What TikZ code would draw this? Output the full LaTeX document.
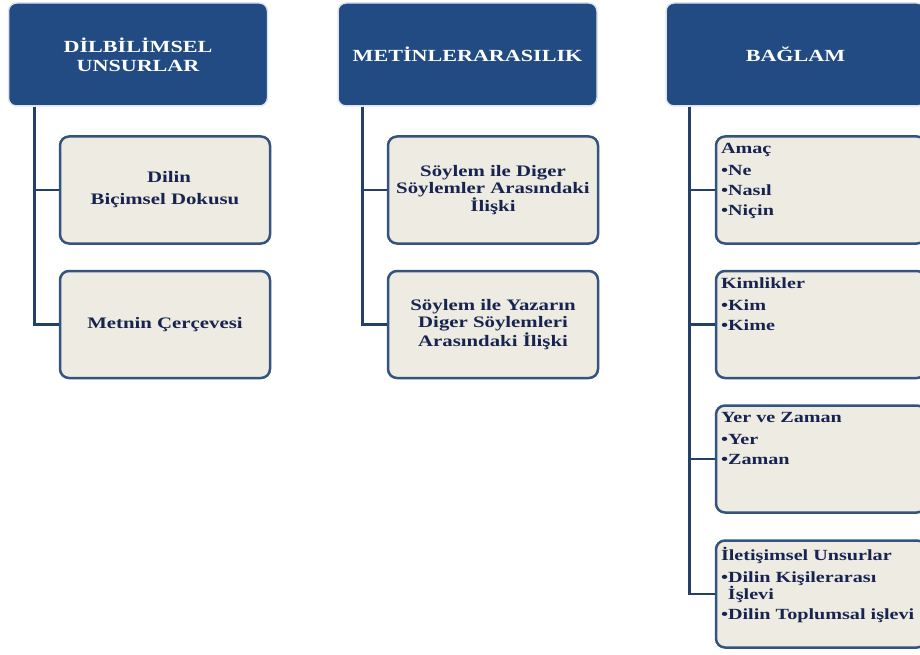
\documentclass[tikz,border=0pt]{standalone}
\usepackage{fontspec}
\setmainfont{Liberation Serif}[FakeStretch=1.3]
\usetikzlibrary{positioning}

\definecolor{hdrblue}{RGB}{33,75,130}
\definecolor{hdredge}{RGB}{222,228,236}
\definecolor{subfill}{RGB}{238,236,226}
\definecolor{subedge}{RGB}{52,84,126}
\definecolor{subtext}{RGB}{24,36,80}
\definecolor{linkcol}{RGB}{36,64,104}

\tikzset{
  hdr/.style={rectangle, rounded corners=8pt, fill=hdrblue, draw=hdredge, line width=1.5pt,
    minimum width=259pt, minimum height=103pt, text=white, align=center,
    font=\bfseries\fontsize{17}{19}\selectfont},
  sub/.style={rectangle, rounded corners=9pt, fill=subfill, draw=subedge, line width=2.5pt,
    minimum width=210pt, minimum height=107pt, text=subtext, align=center,
    font=\bfseries\fontsize{16}{17}\selectfont},
  lst/.style={sub, inner sep=5pt, font=\bfseries\fontsize{15.5}{17}\selectfont},
  link/.style={draw=linkcol, line width=2.7pt}
}

\begin{document}
\begin{tikzpicture}[x=1pt, y=-1pt]
\clip (0,0) rectangle (920,655);
% headers
\node[hdr] (h1) at (138,54.5) {DİLBİLİMSEL\\UNSURLAR};
\node[hdr] (h2) at (467.5,54.5) {METİNLERARASILIK};
\node[hdr] (h3) at (795.5,54.5) {BAĞLAM};
% first column
\node[sub] (c1a) at (165,190) {\hspace*{8pt}Dilin\\[5pt]Biçimsel Dokusu};
\node[sub] (c1b) at (165,324.5) {Metnin Çerçevesi};
% second column
\node[sub] (c2a) at (493,190) {Söylem ile Diger\\Söylemler Arasındaki\\İlişki};
\node[sub] (c2b) at (493,324.5) {Söylem ile Yazarın\\Diger Söylemleri\\Arasındaki İlişki};
% third column
\foreach \n/\y/\t in {
  r1/190/{Amaç\\[5pt]•Ne\\[3pt]•Nasıl\\[3pt]•Niçin},
  r2/324.5/{Kimlikler\\[5pt]•Kim\\[3pt]•Kime},
  r3/459/{Yer ve Zaman\\[5pt]•Yer\\[3pt]•Zaman},
  r4/594/{İletişimsel Unsurlar\\[5pt]•Dilin Kişilerarası\\\hspace*{0.45em}İşlevi\\[3pt]•Dilin Toplumsal işlevi}} {
  \node[lst] (\n) at (821,\y) {\parbox[c][97pt][t]{200pt}{\raggedright\vspace*{2pt}\t}};
}
% connectors
\draw[link] ([xshift=27pt]h1.south west) |- (c1a.west);
\draw[link] ([xshift=27pt]h1.south west) |- (c1b.west);
\draw[link] ([xshift=25pt]h2.south west) |- (c2a.west);
\draw[link] ([xshift=25pt]h2.south west) |- (c2b.west);
\foreach \n in {r1,r2,r3,r4} {
  \draw[link] ([xshift=24pt]h3.south west) |- (\n.west);
}
\end{tikzpicture}
\end{document}
